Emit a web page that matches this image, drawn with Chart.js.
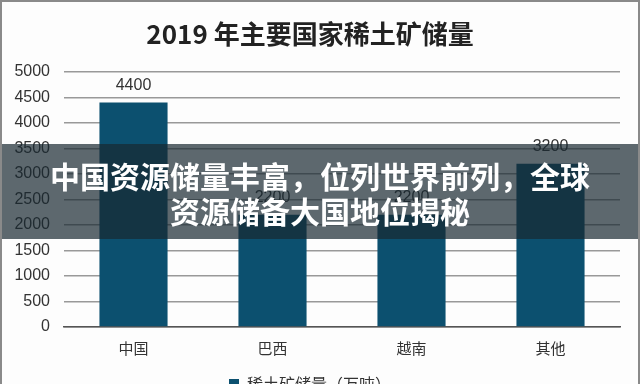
<!DOCTYPE html>
<html>
<head>
<meta charset="utf-8">
<script src="https://cdn.jsdelivr.net/npm/chart.js@4"></script>
<style>
  html, body { margin: 0; padding: 0; width: 640px; height: 384px; overflow: hidden; background: #fdfdfd; }
  #wrap { position: absolute; left: 0; top: 0; width: 640px; height: 402px; }
  #frame { position: absolute; left: 0; top: 0; width: 636px; height: 402px; border: 2px solid #8a8a8a; border-bottom: none; pointer-events: none; box-sizing: content-box; }
  #banner { position: absolute; left: 0; top: 144px; width: 640px; height: 95px; background: rgba(24,40,48,0.7);
            color: #fff; font-family: "Noto Sans CJK SC", sans-serif; font-weight: 700; font-size: 30px; line-height: 35px;
            text-align: center; box-sizing: border-box; padding-top: 14px; }
</style>
</head>
<body>
<div id="wrap"><canvas id="c" width="640" height="402"></canvas></div>
<div id="banner">中国资源储量丰富，位列世界前列，全球<br>资源储备大国地位揭秘</div>
<div id="frame"></div>
<script>
const titleText = '2019 年主要国家稀土矿储量';
const categories = ['中国', '巴西', '越南', '其他'];
const seriesName = '稀土矿储量（万吨）';
const reserves = [4400, 2200, 2200, 3200];
const yTicks = [0, 500, 1000, 1500, 2000, 2500, 3000, 3500, 4000, 4500, 5000];

const barLabels = {
  id: 'barLabels',
  afterDatasetsDraw(chart) {
    const ctx = chart.ctx;
    ctx.save();
    ctx.font = '16px "Liberation Sans", Arial, sans-serif';
    ctx.fillStyle = '#333';
    ctx.textAlign = 'center';
    ctx.textBaseline = 'bottom';
    chart.getDatasetMeta(0).data.forEach((bar, i) => {
      ctx.fillText(String(chart.data.datasets[0].data[i]), bar.x, bar.y - 9);
    });
    ctx.restore();
  }
};

new Chart(document.getElementById('c'), {
  type: 'bar',
  data: {
    labels: categories,
    datasets: [{
      label: seriesName,
      data: reserves,
      backgroundColor: '#0c506f',
      barPercentage: 0.98,
      categoryPercentage: 0.5
    }]
  },
  options: {
    responsive: false,
    animation: false,
    layout: { padding: { left: 0, right: 20, top: 0, bottom: 0 } },
    plugins: {
      title: {
        display: true,
        text: titleText,
        color: '#222',
        font: { family: '"Noto Sans CJK SC", sans-serif', size: 26, weight: '600', lineHeight: 1.2 },
        padding: { top: 19, bottom: 21.8 }
      },
      legend: {
        position: 'bottom',
        labels: {
          color: '#333',
          font: { family: '"Noto Sans CJK SC", sans-serif', size: 16 },
          boxWidth: 10, boxHeight: 10, padding: 10
        }
      },
      tooltip: { enabled: false }
    },
    scales: {
      x: {
        grid: { display: false, drawTicks: false },
        border: { display: true, color: '#555', width: 1.5 },
        ticks: { color: '#333', padding: 12, font: { family: '"Noto Sans CJK SC", sans-serif', size: 15 } },
        afterFit(s) { s.height = 39; }
      },
      y: {
        min: 0, max: 5000,
        afterBuildTicks(s) { s.ticks = yTicks.map(v => ({ value: v })); },
        grid: { color: '#999', lineWidth: 1.5, drawTicks: false },
        border: { display: false },
        ticks: { color: '#333', padding: 14, font: { family: '"Liberation Sans", Arial, sans-serif', size: 16 },
                 callback: (v) => String(v) },
        afterFit(s) { s.width = 64; }
      }
    }
  },
  plugins: [barLabels]
});
</script>
</body>
</html>
